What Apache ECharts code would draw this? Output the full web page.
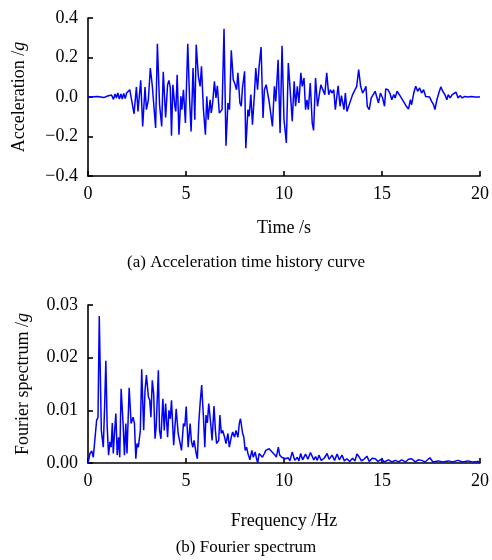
<!DOCTYPE html>
<html>
<head>
<meta charset="utf-8">
<script src="https://cdn.jsdelivr.net/npm/echarts@6/dist/echarts.min.js"></script>
<style>
  html, body { margin: 0; padding: 0; background: #fff; }
  #chart { width: 492px; height: 560px; }
</style>
</head>
<body>
<div id="chart"></div>
<script>
  // (a) acceleration time history
  const timeS = [0, 0.5, 0.8, 1.0, 1.1, 1.2, 1.3, 1.38, 1.45, 1.52, 1.6, 1.68, 1.75, 1.82, 1.9, 1.97, 2.03, 2.07,
    2.13, 2.35, 2.47, 2.55, 2.69, 2.79, 2.91, 2.98, 3.08, 3.18, 3.28, 3.35, 3.45, 3.54, 3.65, 3.72, 3.76, 3.84,
    3.96, 4.06, 4.13, 4.2, 4.26, 4.33, 4.43, 4.48, 4.55, 4.64, 4.74, 4.79, 4.87, 4.97, 5.09, 5.18, 5.26, 5.36,
    5.45, 5.52, 5.63, 5.72, 5.79, 5.89, 5.99, 6.06, 6.13, 6.23, 6.29, 6.36, 6.45, 6.53, 6.6, 6.7, 6.84, 6.94,
    7.04, 7.14, 7.22, 7.31, 7.41, 7.48, 7.58, 7.65, 7.75, 7.82, 7.88, 7.99, 8.05, 8.16, 8.22, 8.31, 8.39, 8.49,
    8.56, 8.65, 8.73, 8.83, 8.93, 9.0, 9.09, 9.17, 9.24, 9.34, 9.41, 9.51, 9.58, 9.7, 9.8, 9.9, 10.0, 10.12,
    10.22, 10.36, 10.42, 10.52, 10.59, 10.68, 10.76, 10.86, 10.93, 11.02, 11.1, 11.17, 11.24, 11.34, 11.44, 11.51,
    11.61, 11.71, 11.78, 11.88, 11.98, 12.08, 12.18, 12.28, 12.37, 12.45, 12.54, 12.62, 12.76, 12.86, 12.93, 13.0,
    13.06, 13.13, 13.21, 13.3, 13.4, 13.5, 13.6, 13.71, 13.81, 13.91, 14.01, 14.11, 14.18, 14.25, 14.35, 14.45,
    14.55, 14.65, 14.75, 14.82, 14.92, 15.03, 15.13, 15.19, 15.3, 15.4, 15.5, 15.6, 15.67, 15.77, 15.84, 15.94,
    16.04, 16.14, 16.24, 16.35, 16.45, 16.51, 16.62, 16.72, 16.82, 16.92, 17.02, 17.12, 17.23, 17.33, 17.43, 17.53,
    17.63, 17.7, 17.8, 17.9, 18.0, 18.1, 18.21, 18.31, 18.38, 18.48, 18.58, 18.68, 18.78, 18.88, 18.98, 19.09,
    19.22, 19.39, 19.56, 19.73, 20.0];
  const accelG = [0, 0.002, -0.003, 0.005, -0.005, 0.01, -0.012, 0.015, -0.005, 0.02, -0.01, 0.015, -0.01, 0.018, -0.008, 0.02, 0.01, 0.03,
    0.037, -0.085, 0.051, -0.073, 0.085, -0.149, 0.051, -0.064, -0.014, 0.147, 0.057, 0.062, -0.157, 0.27, -0.037, -0.047, -0.149, 0.128,
    -0.103, 0.062, 0.084, 0.046, -0.196, 0.062, -0.047, -0.073, 0.113, -0.191, 0.003, -0.064, 0.037, -0.132, 0.27, -0.005, -0.174, 0.147,
    -0.115, 0.265, 0.105, 0.054, 0.155, -0.064, -0.191, 0.003, -0.115, -0.014, -0.081, -0.03, 0.079, -0.005, 0.057, -0.081, -0.064, 0.345,
    -0.247, -0.03, -0.064, 0.237, 0.088, 0.071, 0.037, 0.122, -0.03, -0.047, 0.046, 0.13, -0.259, -0.064, -0.098, 0.012, -0.14, 0.012,
    0.147, 0.037, 0.155, 0.253, -0.106, 0.037, 0.062, 0.054, -0.022, -0.03, -0.149, 0.054, -0.022, 0.189, -0.182, 0.26, -0.115, -0.233,
    0.172, -0.03, -0.123, 0.079, -0.047, 0.054, -0.03, 0.122, 0.054, 0.096, -0.064, -0.014, -0.064, 0.071, -0.132, -0.169,
    0.096, -0.047, -0.056, 0.062, 0.071, 0.012, 0.122, 0.012, 0.037, 0.02, 0.037, -0.064, 0.057, -0.047, 0.007, 0.003,
    -0.064, 0.02, -0.073, -0.047, -0.056, 0.012, 0.02, 0.054, 0.139, 0.054, 0.02, 0.037, 0.054, -0.047, -0.064, -0.005,
    -0.014, 0.029, 0.02, -0.03, 0.02, -0.005, -0.047, 0.041, 0.037, 0.02, -0.014, 0.012, -0.005, 0.029, 0.037, 0.003,
    0.012, -0.03, -0.047, -0.061, -0.014, -0.039, 0.02, 0.054, 0.029, 0.046, 0.02, 0.037, 0.003, -0.005, 0, -0.022,
    -0.039, -0.064, -0.014, 0.02, 0.051, 0.029, 0.012, -0.014, 0.012, -0.005, 0.012, 0.003, 0.024, -0.005, 0.007, -0.005,
    0.003, 0, 0.003, 0, 0];

  // (b) Fourier spectrum
  const freqHz = [0, 0.1, 0.19, 0.27, 0.37, 0.44, 0.51, 0.575, 0.68, 0.78, 0.85, 0.91, 0.98, 1.05, 1.12, 1.18, 1.24, 1.29,
    1.35, 1.42, 1.49, 1.56, 1.62, 1.69, 1.79, 1.86, 1.93, 1.99, 2.1, 2.2, 2.3, 2.37, 2.44, 2.5, 2.57, 2.67, 2.74, 2.84,
    2.91, 2.98, 3.08, 3.15, 3.21, 3.28, 3.35, 3.42, 3.48, 3.59, 3.65, 3.72, 3.82, 3.89, 3.96, 4.06, 4.13, 4.2, 4.26,
    4.37, 4.5, 4.6, 4.67, 4.77, 4.87, 4.94, 5.01, 5.11, 5.21, 5.28, 5.35, 5.41, 5.52, 5.58, 5.65, 5.72, 5.8, 5.89, 5.96,
    6.02, 6.09, 6.16, 6.26, 6.33, 6.43, 6.5, 6.56, 6.67, 6.73, 6.8, 6.87, 6.97, 7.04, 7.14, 7.21, 7.31, 7.38, 7.48, 7.55,
    7.65, 7.72, 7.78, 7.89, 7.95, 8.02, 8.09, 8.16, 8.26, 8.36, 8.43, 8.53, 8.6, 8.66, 8.73, 8.83, 8.9, 9.0, 9.07, 9.17,
    9.24, 9.34, 9.44, 9.54, 9.61, 9.71, 9.78, 9.88, 9.98, 10.08, 10.22, 10.3, 10.42, 10.55, 10.68, 10.76, 10.85, 10.95,
    11.1, 11.22, 11.35, 11.44, 11.52, 11.61, 11.7, 11.78, 11.9, 12.05, 12.2, 12.3, 12.45, 12.58, 12.71, 12.82, 12.96,
    13.08, 13.21, 13.35, 13.5, 13.62, 13.72, 13.81, 13.95, 14.1, 14.23, 14.35, 14.5, 14.65, 14.8, 14.99, 15.1, 15.33,
    15.5, 15.68, 15.85, 16.0, 16.2, 16.35, 16.51, 16.7, 16.85, 17.02, 17.2, 17.44, 17.6, 17.87, 18.1, 18.38, 18.6, 18.88,
    19.1, 19.39, 19.6, 19.9, 20.0];
  const fourierAmp = [0, 0.0018, 0.0023, 0.0011, 0.0011, 0.0081, 0.0087, 0.0279, 0.0062, 0.003, 0.011, 0.0194, 0.0068, 0.0015, 0.004, 0.003, 0.0076, 0.0018,
    0.0056, 0.0094, 0.0015, 0.0049, 0.0011, 0.0141, 0.0075, 0.0015, 0.0075, 0.0018, 0.0143, 0.0075, 0.0087, 0.0075, 0.0008, 0.0037, 0.003, 0.0062, 0.0178, 0.0062,
    0.0138, 0.0167, 0.0126, 0.0119, 0.0087, 0.0157, 0.0132, 0.0046, 0.007, 0.0176, 0.0062, 0.0046, 0.0122, 0.0062, 0.0113, 0.0049, 0.01, 0.0084, 0.0119,
    0.0034, 0.0103, 0.0056, 0.0043, 0.0024, 0.0075, 0.007, 0.0107, 0.003, 0.0075, 0.004, 0.003, 0.0043, 0.0018, 0.0008, 0.0075, 0.0113, 0.0148, 0.0087, 0.003,
    0.0091, 0.0076, 0.0113, 0.0075, 0.0043, 0.0108, 0.0062, 0.0037, 0.0043, 0.0091, 0.0056, 0.0062, 0.0049, 0.0037, 0.0056, 0.003, 0.0049, 0.0059, 0.0049, 0.0062,
    0.0049, 0.0075, 0.0084, 0.0056, 0.0049, 0.0024, 0.003, 0.0018, 0.0006, 0.0024, 0.0011, 0.0021, 0.0008, 0, 0.0018, 0.0021, 0.0011, 0.0018, 0.0024, 0.0021,
    0.0027, 0.0024, 0.0019, 0.0015, 0.0011, 0.003, 0.0015, 0.0011, 0.0013, 0.0008, 0.001, 0.0004, 0.0021, 0.0005, 0.0011, 0.0004, 0.0018, 0.0006,
    0.0017, 0.0007, 0.002, 0.0019, 0.0006, 0.0012, 0.0005, 0.0015, 0.0005, 0.0009, 0.0018, 0.0007, 0.0015, 0.0005, 0.0017, 0.0006, 0.0015,
    0.0004, 0.0008, 0.0003, 0.0009, 0.0004, 0.0017, 0.0013, 0.0004, 0.0008, 0.0013, 0.0003, 0.0009, 0.0008, 0.0003, 0.0008, 0.0002, 0.0006,
    0.0002, 0.0005, 0.0002, 0.0006, 0.0002, 0.0007, 0.0008, 0.0002, 0.0006, 0.0005, 0.0002, 0.001, 0.0002, 0.0004, 0.0002, 0.0004, 0.0002, 0.0005,
    0.0002, 0.0004, 0.0002, 0.0003, 0.0001];

  const accelTicks = [-0.4, -0.2, 0, 0.2, 0.4];
  const fourierTicks = [0, 0.01, 0.02, 0.03];
  const axisTicks = [0, 5, 10, 15, 20];

  const FONT = 'Liberation Serif';
  const FS = 18;
  const zip = (xs, ys) => xs.map((x, i) => [x, ys[i]]);
  const fmtSigned = (v, d) => (v < 0 ? '\u2212' + Math.abs(v).toFixed(d) : v.toFixed(d));

  const axisBase = {
    axisLine: { onZero: false, lineStyle: { color: '#000', width: 1.6 } },
    axisTick: { inside: true, length: 5, lineStyle: { color: '#000', width: 1.6 } },
    splitLine: { show: false },
    axisLabel: { color: '#000', fontFamily: FONT, fontSize: FS },
    nameLocation: 'middle',
    nameTextStyle: {
      color: '#000', fontFamily: FONT, fontSize: FS,
      rich: { i: { fontStyle: 'italic', fontFamily: FONT, fontSize: FS, color: '#000' } }
    }
  };

  const xAxisOf = (idx, name, gap) => Object.assign({}, axisBase, {
    type: 'value', gridIndex: idx, min: axisTicks[0], max: axisTicks[axisTicks.length - 1],
    interval: axisTicks[1] - axisTicks[0], name: name, nameGap: gap,
    axisLabel: Object.assign({}, axisBase.axisLabel, { margin: 9 })
  });

  const myChart = echarts.init(document.getElementById('chart'));
  const option = {
    animation: false,
    backgroundColor: '#fff',
    grid: [
      { left: 88, top: 18, width: 394, height: 158 },
      { left: 88, top: 305, width: 394, height: 158 }
    ],
    xAxis: [
      xAxisOf(0, 'Time /s', 43),
      xAxisOf(1, 'Frequency /Hz', 49)
    ],
    yAxis: [
      Object.assign({}, axisBase, {
        type: 'value', gridIndex: 0, min: accelTicks[0], max: accelTicks[accelTicks.length - 1],
        interval: accelTicks[1] - accelTicks[0], name: 'Acceleration /{i|g}', nameGap: 60,
        axisLabel: Object.assign({}, axisBase.axisLabel, { margin: 10, formatter: v => fmtSigned(v, 1) })
      }),
      Object.assign({}, axisBase, {
        type: 'value', gridIndex: 1, min: fourierTicks[0], max: fourierTicks[fourierTicks.length - 1],
        interval: fourierTicks[1] - fourierTicks[0], name: 'Fourier spectrum /{i|g}', nameGap: 56,
        axisLabel: Object.assign({}, axisBase.axisLabel, { margin: 10, formatter: v => v.toFixed(2) })
      })
    ],
    series: [
      {
        type: 'line', xAxisIndex: 0, yAxisIndex: 0, showSymbol: false,
        data: zip(timeS, accelG),
        lineStyle: { color: '#0000ff', width: 1.5 }
      },
      {
        type: 'line', xAxisIndex: 1, yAxisIndex: 1, showSymbol: false,
        data: zip(freqHz, fourierAmp),
        lineStyle: { color: '#0000ff', width: 1.5 }
      }
    ],
    graphic: [
      {
        type: 'text', x: 246, y: 263,
        style: { text: '(a) Acceleration time history curve', fontFamily: FONT, fontSize: 17, fill: '#000', align: 'center', verticalAlign: 'middle' }
      },
      {
        type: 'text', x: 246, y: 548,
        style: { text: '(b) Fourier spectrum', fontFamily: FONT, fontSize: 17, fill: '#000', align: 'center', verticalAlign: 'middle' }
      }
    ]
  };
  myChart.setOption(option);
</script>
</body>
</html>
